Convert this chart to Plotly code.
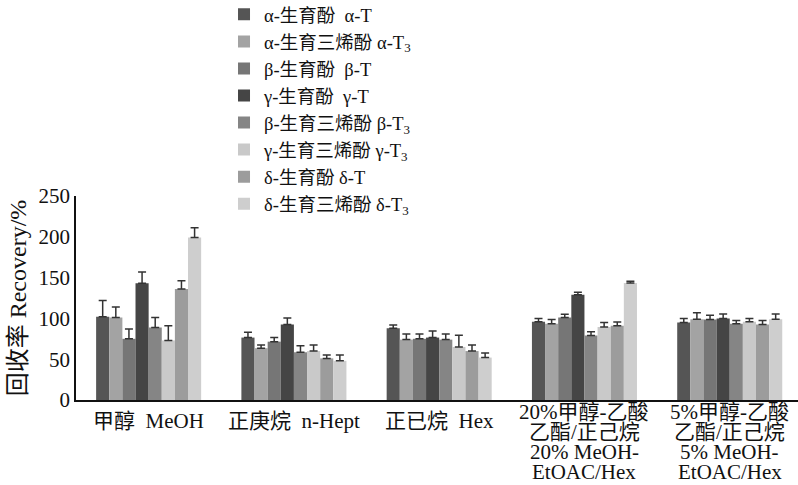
import plotly.graph_objects as go

# Solvent systems (x categories)
solvents = ["MeOH", "n-Hept", "Hex", "20% MeOH-EtOAC/Hex", "5% MeOH-EtOAC/Hex"]

# Category label lines, printed under each group
solvent_labels = [
    ["甲醇  MeOH"],
    ["正庚烷  n-Hept"],
    ["正已烷  Hex"],
    ["20%甲醇-乙酸", "乙酯/正己烷", "20% MeOH-", "EtOAC/Hex"],
    ["5%甲醇-乙酸", "乙酯/正己烷", "5% MeOH-", "EtOAC/Hex"],
]

# Tocopherol / tocotrienol names
compounds = [
    "α-生育酚  α-T",
    "α-生育三烯酚 α-T<sub>3</sub>",
    "β-生育酚  β-T",
    "γ-生育酚  γ-T",
    "β-生育三烯酚 β-T<sub>3</sub>",
    "γ-生育三烯酚 γ-T<sub>3</sub>",
    "δ-生育酚 δ-T",
    "δ-生育三烯酚 δ-T<sub>3</sub>",
]

# Recovery (%) per compound, one value per solvent
alpha_T = [102, 76.5, 88, 96, 95]
alpha_T3 = [101, 63.5, 74, 93.5, 99]
beta_T = [75, 71.5, 75, 101, 98.5]
gamma_T = [143, 92.5, 76.5, 129, 100]
beta_T3 = [89, 58.5, 74, 79, 93.5]
gamma_T3 = [73, 60, 65, 89.5, 96]
delta_T = [136, 51, 60, 91, 92.5]
delta_T3 = [199, 48, 52, 143.5, 99]

# Standard deviations (upper error bars)
alpha_T_sd = [20, 6.5, 4, 4, 5]
alpha_T3_sd = [13, 4, 7, 5, 8]
beta_T_sd = [12, 5, 6, 4, 5.5]
gamma_T_sd = [14, 8, 8, 3, 5.5]
beta_T3_sd = [12, 8, 7, 4.5, 4]
gamma_T3_sd = [18, 7.5, 14.5, 5.5, 4]
delta_T_sd = [10, 4, 7.5, 4.5, 5]
delta_T3_sd = [12, 7, 5.5, 2, 6.5]

values = [alpha_T, alpha_T3, beta_T, gamma_T, beta_T3, gamma_T3, delta_T, delta_T3]
errors = [alpha_T_sd, alpha_T3_sd, beta_T_sd, gamma_T_sd, beta_T3_sd, gamma_T3_sd,
          delta_T_sd, delta_T3_sd]
colors = ["#555555", "#a3a3a3", "#767676", "#454545",
          "#858585", "#c9c9c9", "#9c9c9c", "#cecece"]

FONT = "Liberation Serif, Noto Sans CJK SC, serif"
INK = "#111111"

fig = go.Figure()
for name, vals, errs, col in zip(compounds, values, errors, colors):
    fig.add_trace(go.Bar(
        name=name,
        x=solvents,
        y=vals,
        marker=dict(color=col, line=dict(width=0)),
        error_y=dict(type="data", array=errs, symmetric=False, arrayminus=[0] * len(errs),
                     color="#333333", thickness=1.5, width=4),
    ))

# Category labels below the axis, one text line each (tight line spacing)
LINE_STEP = 20
for cat, lines in zip(solvents, solvent_labels):
    first = -21 if len(lines) == 1 else -12
    for i, line in enumerate(lines):
        fig.add_annotation(
            x=cat, xref="x", y=0, yref="paper",
            text=line, showarrow=False,
            xanchor="center", yanchor="middle", borderpad=0,
            yshift=first - i * LINE_STEP,
            font=dict(family=FONT, size=21, color=INK),
        )

fig.update_layout(
    width=798,
    height=485,
    barmode="group",
    bargap=0.277,
    bargroupgap=0,
    plot_bgcolor="white",
    paper_bgcolor="white",
    margin=dict(l=76, r=0, t=196, b=85, autoexpand=False),
    font=dict(family=FONT, size=18.5, color=INK),
    showlegend=True,
    legend=dict(
        x=0.205, y=1.425, xanchor="left", yanchor="middle",
        bgcolor="rgba(0,0,0,0)",
        font=dict(family=FONT, size=18.5, color=INK),
        tracegroupgap=0,
        itemwidth=30,
    ),
    xaxis=dict(
        range=[-0.5, 4.47],
        showline=True, linecolor=INK, linewidth=2,
        ticks="", showgrid=False, showticklabels=False,
        automargin=False,
    ),
    yaxis=dict(
        range=[0, 250],
        tickvals=[0, 50, 100, 150, 200, 250],
        showline=True, linecolor=INK, linewidth=1.5,
        ticks="", showgrid=False, zeroline=False,
        automargin=False,
        tickfont=dict(family=FONT, size=21, color=INK),
        title=dict(text="回收率 Recovery/%", standoff=5,
                   font=dict(family=FONT, size=24, color=INK)),
    ),
)

fig.write_html("out.html")
